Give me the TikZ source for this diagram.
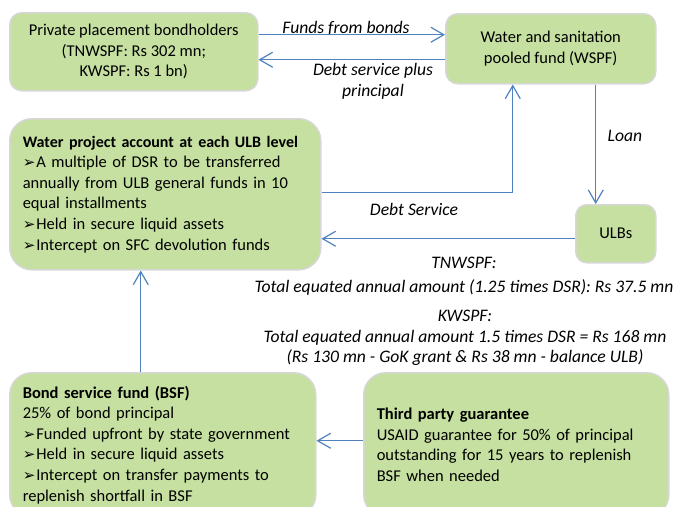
\documentclass[tikz,border=0pt]{standalone}
\usepackage{fontspec}
\setmainfont{Carlito}
\newfontfamily\dejavu{DejaVu Sans}
\usetikzlibrary{arrows.meta}

\definecolor{boxgreen}{RGB}{197,224,160}
\definecolor{boxgray}{RGB}{215,215,215}
\definecolor{flowblue}{RGB}{79,129,189}

\newcommand{\arrowbullet}{{\dejavu\fontsize{15}{15}\selectfont ➢}\kern1pt}

\begin{document}
\begin{tikzpicture}[x=1pt, y=-1pt,
  every node/.style={font=\fontsize{16.5}{20.6}\selectfont},
  box/.style={draw=boxgray, fill=boxgreen, line width=1.5pt, anchor=north west, inner sep=0pt},
  textbox/.style={box, align=left, inner xsep=13pt},
  flow/.style={draw=flowblue, line width=1.2pt, -{Straight Barb[length=13pt,width=15pt]}},
  lbl/.style={font=\fontsize{17.6}{21}\selectfont\itshape, align=center}]
  \useasboundingbox (0,0) rectangle (674,506);
  \clip (0,0) rectangle (674,506);

  \node[box, minimum width=248, minimum height=78, rounded corners=12pt, align=center] (bond) at (9,12)
    {Private placement bondholders\\(TNWSPF: Rs 302 mn;\\KWSPF: Rs 1 bn)};
  \node[box, minimum width=210, minimum height=70, rounded corners=12pt, align=center] (wspf) at (445,13)
    {Water and sanitation\\pooled fund (WSPF)};
  \node[textbox, text width=285pt, minimum height=151, rounded corners=22pt] (wpa) at (9,118)
    {{\fontsize{16}{20.6}\selectfont\bfseries Water project account at each ULB level}\\
     \arrowbullet A multiple of DSR to be transferred\\
     annually from ULB general funds in 10\\
     equal installments\\
     \arrowbullet Held in secure liquid assets\\
     \arrowbullet Intercept on SFC devolution funds};
  \node[box, minimum width=80, minimum height=58, rounded corners=11pt] (ulb) at (575,204) {ULBs};
  \node[textbox, text width=280pt, minimum height=144, rounded corners=22pt] (bsf) at (9,372)
    {\textbf{Bond service fund (BSF)}\\
     25\% of bond principal\\
     \arrowbullet Funded upfront by state government\\
     \arrowbullet Held in secure liquid assets\\
     \arrowbullet Intercept on transfer payments to\\
     replenish shortfall in BSF};
  \node[textbox, text width=279pt, minimum height=144, rounded corners=22pt] (tpg) at (363,372)
    {\textbf{Third party guarantee}\\
     USAID guarantee for 50\% of principal\\
     outstanding for 15 years to replenish\\
     BSF when needed};

  % flow labels
  \node[lbl] (fundslbl) at (346,28) {Funds from bonds};
  \node[lbl] (debtlbl) at (373,81) {Debt service plus\\principal};
  \node[lbl] (loanlbl) at (625,136) {Loan};
  \node[lbl] (dslbl) at (414,209) {Debt Service};
  \node[lbl, font=\fontsize{17.6}{24}\selectfont\itshape] (tnlbl) at (464,276) {TNWSPF:\\Total equated annual amount (1.25 times DSR): Rs 37.5 mn};
  \node[lbl, font=\fontsize{17.6}{20.5}\selectfont\itshape] (kwlbl) at (465,338) {KWSPF:\\Total equated annual amount 1.5 times DSR = Rs 168 mn\\(Rs 130 mn - GoK grant \& Rs 38 mn - balance ULB)};

  % flows
  \draw[flow] ([yshift=14pt]wspf.west -| bond.east) -- ([yshift=14pt]wspf.west);
  \draw[flow] ([yshift=-11pt]wspf.west) -- ([yshift=-11pt]wspf.west -| bond.east);
  \draw[flow] ([yshift=2pt]wpa.east) -| ([xshift=-38pt]wspf.south);
  \draw[flow] ([xshift=45pt]wspf.south) -- ([xshift=45pt]wspf.south |- ulb.north);
  \draw[flow] ([yshift=-5pt]ulb.west) -- ([yshift=-5pt]ulb.west -| wpa.east);
  \draw[flow] ([xshift=-22pt]bsf.north) -- ([xshift=-22pt]bsf.north |- wpa.south);
  \draw[flow] ([yshift=4pt]tpg.west) -- ([yshift=4pt]tpg.west -| bsf.east);
\end{tikzpicture}
\end{document}
